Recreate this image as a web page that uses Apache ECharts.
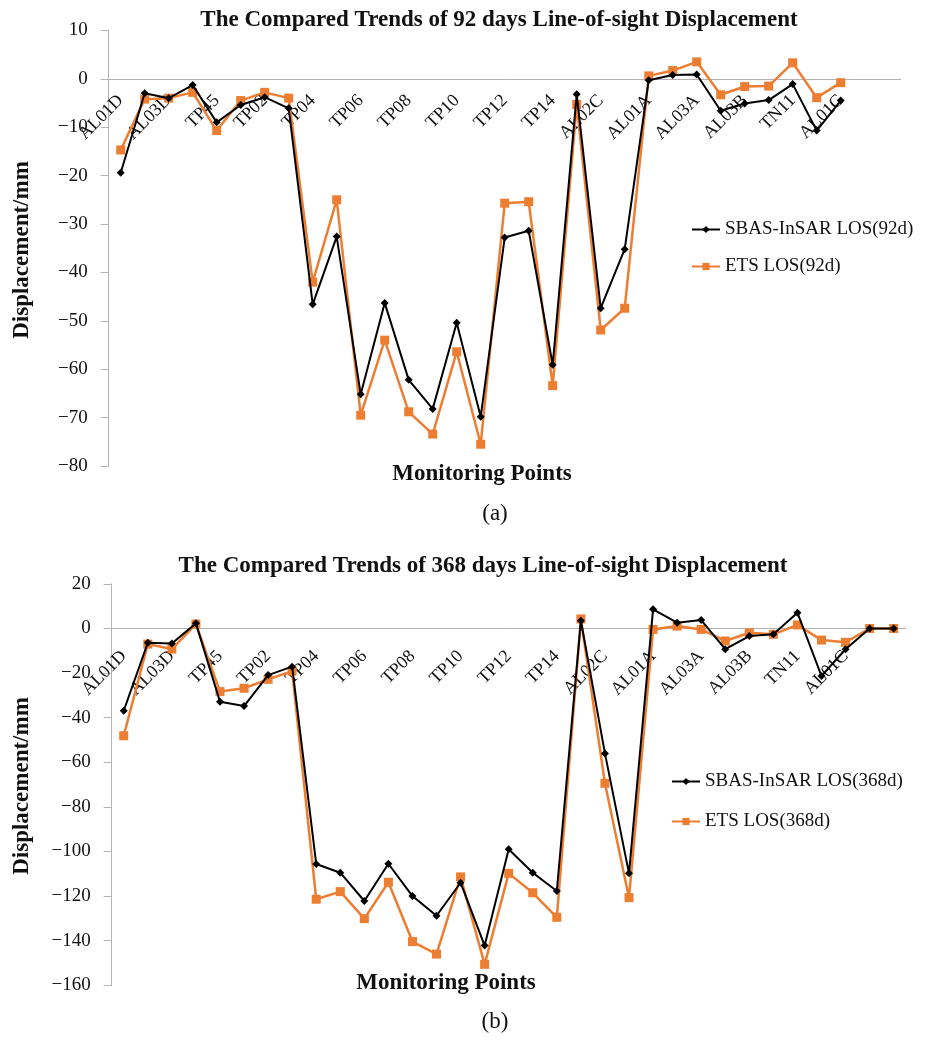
<!DOCTYPE html>
<html>
<head>
<meta charset="utf-8">
<script src="https://cdn.jsdelivr.net/npm/echarts@6/dist/echarts.min.js"></script>
<style>
html,body{margin:0;padding:0;background:#fff;}
#chart{width:945px;height:1040px;}
</style>
</head>
<body>
<div id="chart"></div>
<script>
var categories = ['AL01D','AL02D','AL03D','TP44','TP45','TP01','TP02','TP03','TP04','TP05','TP06','TP07','TP08','TP09','TP10','TP11','TP12','TP13','TP14','TP15','AL02C','AL03C','AL01A','AL02A','AL03A','AL02B','AL03B','TN10','TN11','TN12','AL01C','AL02E','AL03E'];

var sbas92 = [-19.4,-3.0,-4.0,-1.3,-9.0,-5.4,-3.8,-6.1,-46.6,-32.6,-65.2,-46.3,-62.2,-68.2,-50.4,-69.8,-32.8,-31.4,-59.1,-3.2,-47.4,-35.2,-0.3,0.8,0.9,-6.6,-5.1,-4.4,-1.1,-10.7,-4.5,null,null];
var ets92 = [-14.7,-4.2,-4.0,-2.8,-10.7,-4.5,-2.8,-4.0,-42.0,-25.0,-69.5,-54.0,-68.8,-73.4,-56.4,-75.5,-25.7,-25.4,-63.4,-5.3,-51.9,-47.4,0.6,1.7,3.5,-3.3,-1.6,-1.5,3.3,-3.9,-0.8,null,null];

var sbas368 = [-36.9,-6.4,-6.7,2.3,-32.8,-34.8,-20.9,-17.1,-105.6,-109.5,-122.2,-105.5,-120.0,-128.8,-114.0,-142.2,-99.0,-109.5,-117.7,3.5,-56.0,-109.8,8.6,2.6,3.8,-9.3,-3.4,-2.6,7.1,-21.3,-9.3,0,0];
var ets368 = [-48.1,-7.0,-9.2,2.0,-28.3,-26.8,-22.8,-19.1,-121.4,-118.0,-130.1,-113.8,-140.4,-146.0,-111.4,-150.6,-109.8,-118.5,-129.5,4.3,-69.4,-120.7,-0.4,1.1,-0.4,-5.6,-1.9,-2.6,1.6,-5.2,-6.2,0,0];

var yTop = { min: -80, max: 10, interval: 10 };
var yBottom = { min: -160, max: 20, interval: 20 };

var titleTop = 'The Compared Trends of 92 days Line-of-sight Displacement';
var titleBottom = 'The Compared Trends of 368 days Line-of-sight Displacement';
var seriesNamesTop = ['SBAS-InSAR LOS(92d)','ETS LOS(92d)'];
var seriesNamesBottom = ['SBAS-InSAR LOS(368d)','ETS LOS(368d)'];

var FONT = '"Liberation Serif", "DejaVu Serif", serif';
var BLACK = '#000000';
var ORANGE = '#ED7D31';
var AXIS_GRAY = '#b3b3b3';

var gridTop = { left: 108.7, top: 30.4, width: 792, height: 435.6 };
var gridBottom = { left: 111.7, top: 583.9, width: 794, height: 401.4 };

function zeroOffset(grid, y) {
  // move the category axis (line + labels) up to the value 0 of the value axis
  return -grid.height * (0 - y.min) / (y.max - y.min);
}

function xAxisCfg(gridIndex, offset, margin) {
  return {
    type: 'category', gridIndex: gridIndex, data: categories, boundaryGap: true,
    position: 'bottom', offset: offset,
    axisLine: { onZero: false, lineStyle: { color: AXIS_GRAY, width: 1 } },
    axisTick: { show: false },
    axisLabel: {
      interval: function (i) { return i % 2 === 0 && i <= 30; },
      rotate: 45, margin: margin, color: '#111', fontFamily: FONT, fontSize: 18
    },
    splitLine: { show: false }
  };
}
function yAxisCfg(gridIndex, y) {
  return {
    type: 'value', gridIndex: gridIndex, min: y.min, max: y.max, interval: y.interval,
    axisLine: { show: true, onZero: false, lineStyle: { color: AXIS_GRAY, width: 1 } },
    axisTick: { show: true, inside: false, length: 8, lineStyle: { color: AXIS_GRAY } },
    axisLabel: {
      margin: 21, color: '#111', fontFamily: FONT, fontSize: 19,
      formatter: function (v) { return String(v).replace('-', '\u2212'); }
    },
    splitLine: { show: false }
  };
}
function sbasSeries(name, data, idx) {
  return {
    name: name, type: 'line', xAxisIndex: idx, yAxisIndex: idx, data: data,
    symbol: 'diamond', symbolSize: 8, showAllSymbol: true, connectNulls: false,
    lineStyle: { color: BLACK, width: 2 }, itemStyle: { color: BLACK },
    animation: false, z: 3
  };
}
function etsSeries(name, data, idx) {
  return {
    name: name, type: 'line', xAxisIndex: idx, yAxisIndex: idx, data: data,
    symbol: 'rect', symbolSize: 9, showAllSymbol: true, connectNulls: false,
    lineStyle: { color: ORANGE, width: 2.5 }, itemStyle: { color: ORANGE },
    animation: false, z: 2
  };
}

var BOLD_LABEL = 'bold 23px ' + FONT;

var chart = echarts.init(document.getElementById('chart'), null, { renderer: 'canvas' });
chart.setOption({
  backgroundColor: '#ffffff',
  animation: false,
  title: [
    { text: titleTop, left: 494, top: 4, textAlign: 'center',
      textStyle: { fontFamily: FONT, fontSize: 23, fontWeight: 'bold', color: '#111' } },
    { text: titleBottom, left: 478, top: 550, textAlign: 'center',
      textStyle: { fontFamily: FONT, fontSize: 23, fontWeight: 'bold', color: '#111' } }
  ],
  grid: [gridTop, gridBottom],
  xAxis: [xAxisCfg(0, zeroOffset(gridTop, yTop), 19), xAxisCfg(1, zeroOffset(gridBottom, yBottom), 25)],
  yAxis: [yAxisCfg(0, yTop), yAxisCfg(1, yBottom)],
  legend: [
    { data: seriesNamesTop, orient: 'vertical', left: 686, top: 215, itemGap: 18,
      itemWidth: 28, itemHeight: 9,
      textStyle: { fontFamily: FONT, fontSize: 19, color: '#111' } },
    { data: seriesNamesBottom, orient: 'vertical', left: 666, top: 767, itemGap: 21,
      itemWidth: 28, itemHeight: 9,
      textStyle: { fontFamily: FONT, fontSize: 19, color: '#111' } }
  ],
  graphic: [
    { type: 'text', x: 482, y: 474, style: { text: 'Monitoring Points', font: BOLD_LABEL, fill: '#111', align: 'center', verticalAlign: 'middle' } },
    { type: 'text', x: 446, y: 983, style: { text: 'Monitoring Points', font: BOLD_LABEL, fill: '#111', align: 'center', verticalAlign: 'middle' } },
    { type: 'text', x: 22, y: 250, rotation: Math.PI / 2, style: { text: 'Displacement/mm', font: BOLD_LABEL, fill: '#111', align: 'center', verticalAlign: 'middle' } },
    { type: 'text', x: 22, y: 786, rotation: Math.PI / 2, style: { text: 'Displacement/mm', font: BOLD_LABEL, fill: '#111', align: 'center', verticalAlign: 'middle' } },
    { type: 'text', x: 495, y: 514, style: { text: '(a)', font: '23px ' + FONT, fill: '#111', align: 'center', verticalAlign: 'middle' } },
    { type: 'text', x: 495, y: 1022, style: { text: '(b)', font: '23px ' + FONT, fill: '#111', align: 'center', verticalAlign: 'middle' } }
  ],
  series: [
    sbasSeries(seriesNamesTop[0], sbas92, 0),
    etsSeries(seriesNamesTop[1], ets92, 0),
    sbasSeries(seriesNamesBottom[0], sbas368, 1),
    etsSeries(seriesNamesBottom[1], ets368, 1)
  ]
});
</script>
</body>
</html>
